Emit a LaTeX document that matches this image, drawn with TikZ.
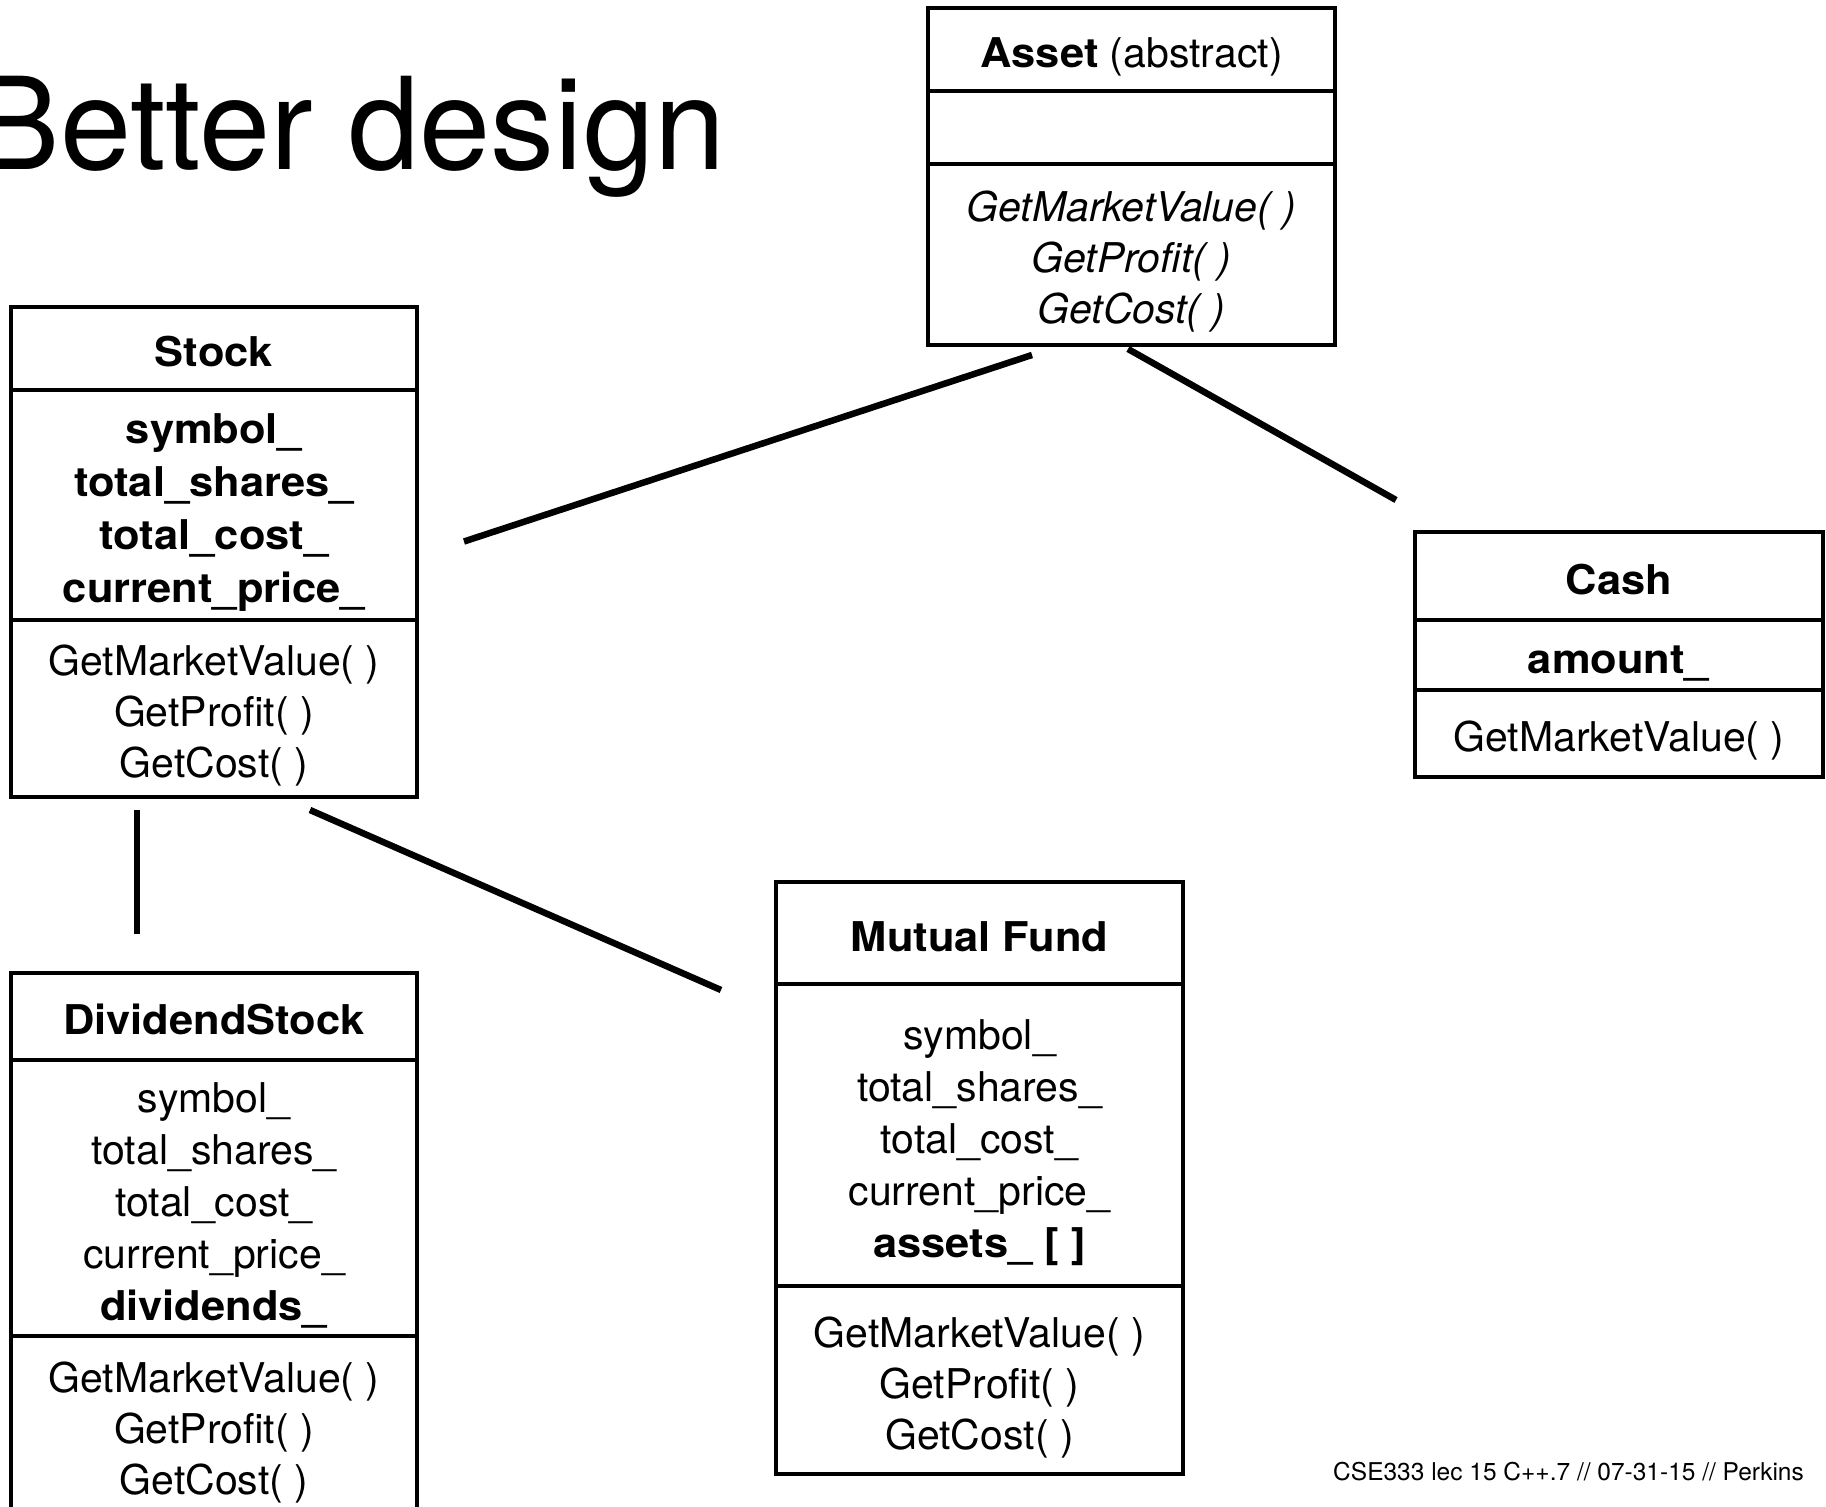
\documentclass[tikz,border=0pt]{standalone}
\usepackage{fontspec}
\setmainfont{TeX Gyre Heros}[BoldFeatures={FakeStretch=1.06}]
\usetikzlibrary{positioning}
\def\fsz#1{\fontsize{41}{#1}\selectfont}%cỡ chữ, khoảng dòng
\def\T{\rule{0pt}{46pt}}%chống dòng đầu
\def\B{\rule[-10pt]{0pt}{0pt}}%chống dòng cuối
\begin{document}
\begin{tikzpicture}[x=1pt,y=-1pt,
    part/.style={draw,line width=3.5pt,inner sep=0pt,outer sep=0pt,align=center,font=\fsz{51}},
    link/.style={line width=6.5pt}]
    \path[fill=white,use as bounding box] (0,0) rectangle (1826,1507);
    \node[anchor=base east,inner sep=0pt,font=\fontsize{128}{128}\selectfont] (heading) at (726,169) {Better design};
    % Asset
    \node[part,minimum width=407pt,minimum height=83pt,anchor=north] (asset) at (1131.5,8) {\T\textbf{Asset} (abstract)\B};
    \node[part,minimum width=407pt,minimum height=73pt,below=0pt of asset] (assetA) {};
    \node[part,minimum width=407pt,minimum height=181pt,below=0pt of assetA,font=\fsz{51}\itshape] (assetM)
        {\T GetMarketValue( )\\GetProfit( )\\GetCost( )\B};
    % Stock
    \node[part,minimum width=406pt,minimum height=83pt,anchor=north] (stock) at (214,307) {\T\textbf{Stock}\B};
    \node[part,minimum width=406pt,minimum height=230pt,below=0pt of stock,font=\fsz{53.3}\bfseries] (stockA)
        {\T symbol\_\\total\_shares\_\\total\_cost\_\\current\_price\_\B};
    \node[part,minimum width=406pt,minimum height=177pt,below=0pt of stockA] (stockM)
        {\T GetMarketValue( )\\GetProfit( )\\GetCost( )\B};
    % Cash
    \node[part,minimum width=408pt,minimum height=88pt,anchor=north] (cash) at (1619,532) {\T\textbf{Cash}\B};
    \node[part,minimum width=408pt,minimum height=70pt,below=0pt of cash] (cashA) {\T\textbf{amount\_}\B};
    \node[part,minimum width=408pt,minimum height=87pt,below=0pt of cashA] (cashM) {\T GetMarketValue( )\B};
    % DividendStock
    \node[part,minimum width=406pt,minimum height=87pt,anchor=north] (div) at (214,973) {\T\textbf{DividendStock}\B};
    \node[part,minimum width=406pt,minimum height=276pt,below=0pt of div,font=\fsz{52}] (divA)
        {\T symbol\_\\total\_shares\_\\total\_cost\_\\current\_price\_\\\textbf{dividends\_}\B};
    \node[part,minimum width=406pt,minimum height=178pt,below=0pt of divA] (divM)
        {\T GetMarketValue( )\\GetProfit( )\\GetCost( )\B};
    % Mutual Fund
    \node[part,minimum width=407pt,minimum height=102pt,anchor=north] (fund) at (979.5,882) {\T\textbf{Mutual Fund}\B};
    \node[part,minimum width=407pt,minimum height=302pt,below=0pt of fund,font=\fsz{52}] (fundA)
        {\T symbol\_\\total\_shares\_\\total\_cost\_\\current\_price\_\\\textbf{assets\_ [ ]}\B};
    \node[part,minimum width=407pt,minimum height=188pt,below=0pt of fundA] (fundM)
        {\T GetMarketValue( )\\GetProfit( )\\GetCost( )\B};
    \node[anchor=east,inner sep=0pt,font=\fontsize{24.5}{29}\selectfont] (footer) at (1804,1472)
        {CSE333 lec 15 C++.7 // 07-31-15 // Perkins};
    % đầu mút các đường nối
    \coordinate (a1) at ([shift={(-99.5,10)}]assetM.south);
    \coordinate (a2) at ([shift={(-3.5,4)}]assetM.south);
    \coordinate (s1) at ([shift={(47,36.5)}]stockA.east);
    \coordinate (c1) at ([shift={(-223,-32)}]cash.north);
    \coordinate (s2) at ([shift={(-77,13)}]stockM.south);
    \coordinate (s3) at ([shift={(96,13)}]stockM.south);
    \coordinate (d1) at ([shift={(-77,-39)}]div.north);
    \coordinate (f1) at ([shift={(-55,57)}]fund.west);
    \foreach \a/\b in {a1/s1,a2/c1,s2/d1,s3/f1} \draw[link] (\a)--(\b);
\end{tikzpicture}
\end{document}
